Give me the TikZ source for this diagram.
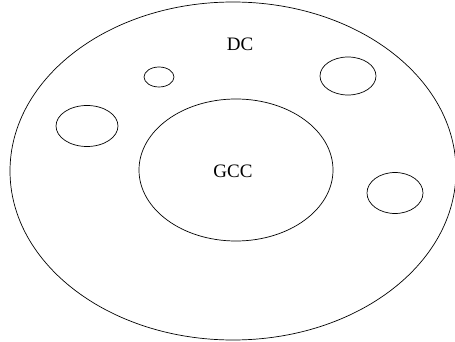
\documentclass[tikz,border=0pt]{standalone}
\usepackage{fontspec}
\setmainfont{Liberation Serif}
\usetikzlibrary{math}

\begin{document}
\begin{tikzpicture}[x=1pt,y=-1pt]
\useasboundingbox (0,0) rectangle (455,342);

\tikzmath{
\Rx = 223;
\Ry = 169;
\rx = 97;
\ry = 71;
}
%
\draw[black, line width=0.7pt] (233,171) ellipse ({\Rx} and {\Ry});
\draw[black, line width=0.7pt] (236,170) ellipse ({\rx} and {\ry});

\foreach \x/\y/\a/\b in {159/77/15/10, 348/76/28/19, 87/126/31/20.5, 395/193/28/20.5}{
  \draw[black, line width=0.7pt] (\x,\y) ellipse ({\a} and {\b});
}

\node[font=\fontsize{19}{22}\selectfont] (dc) at (240,44) {DC};
\node[font=\fontsize{19}{22}\selectfont] (gcc) at (233,171) {GCC};

\end{tikzpicture}
\end{document}
